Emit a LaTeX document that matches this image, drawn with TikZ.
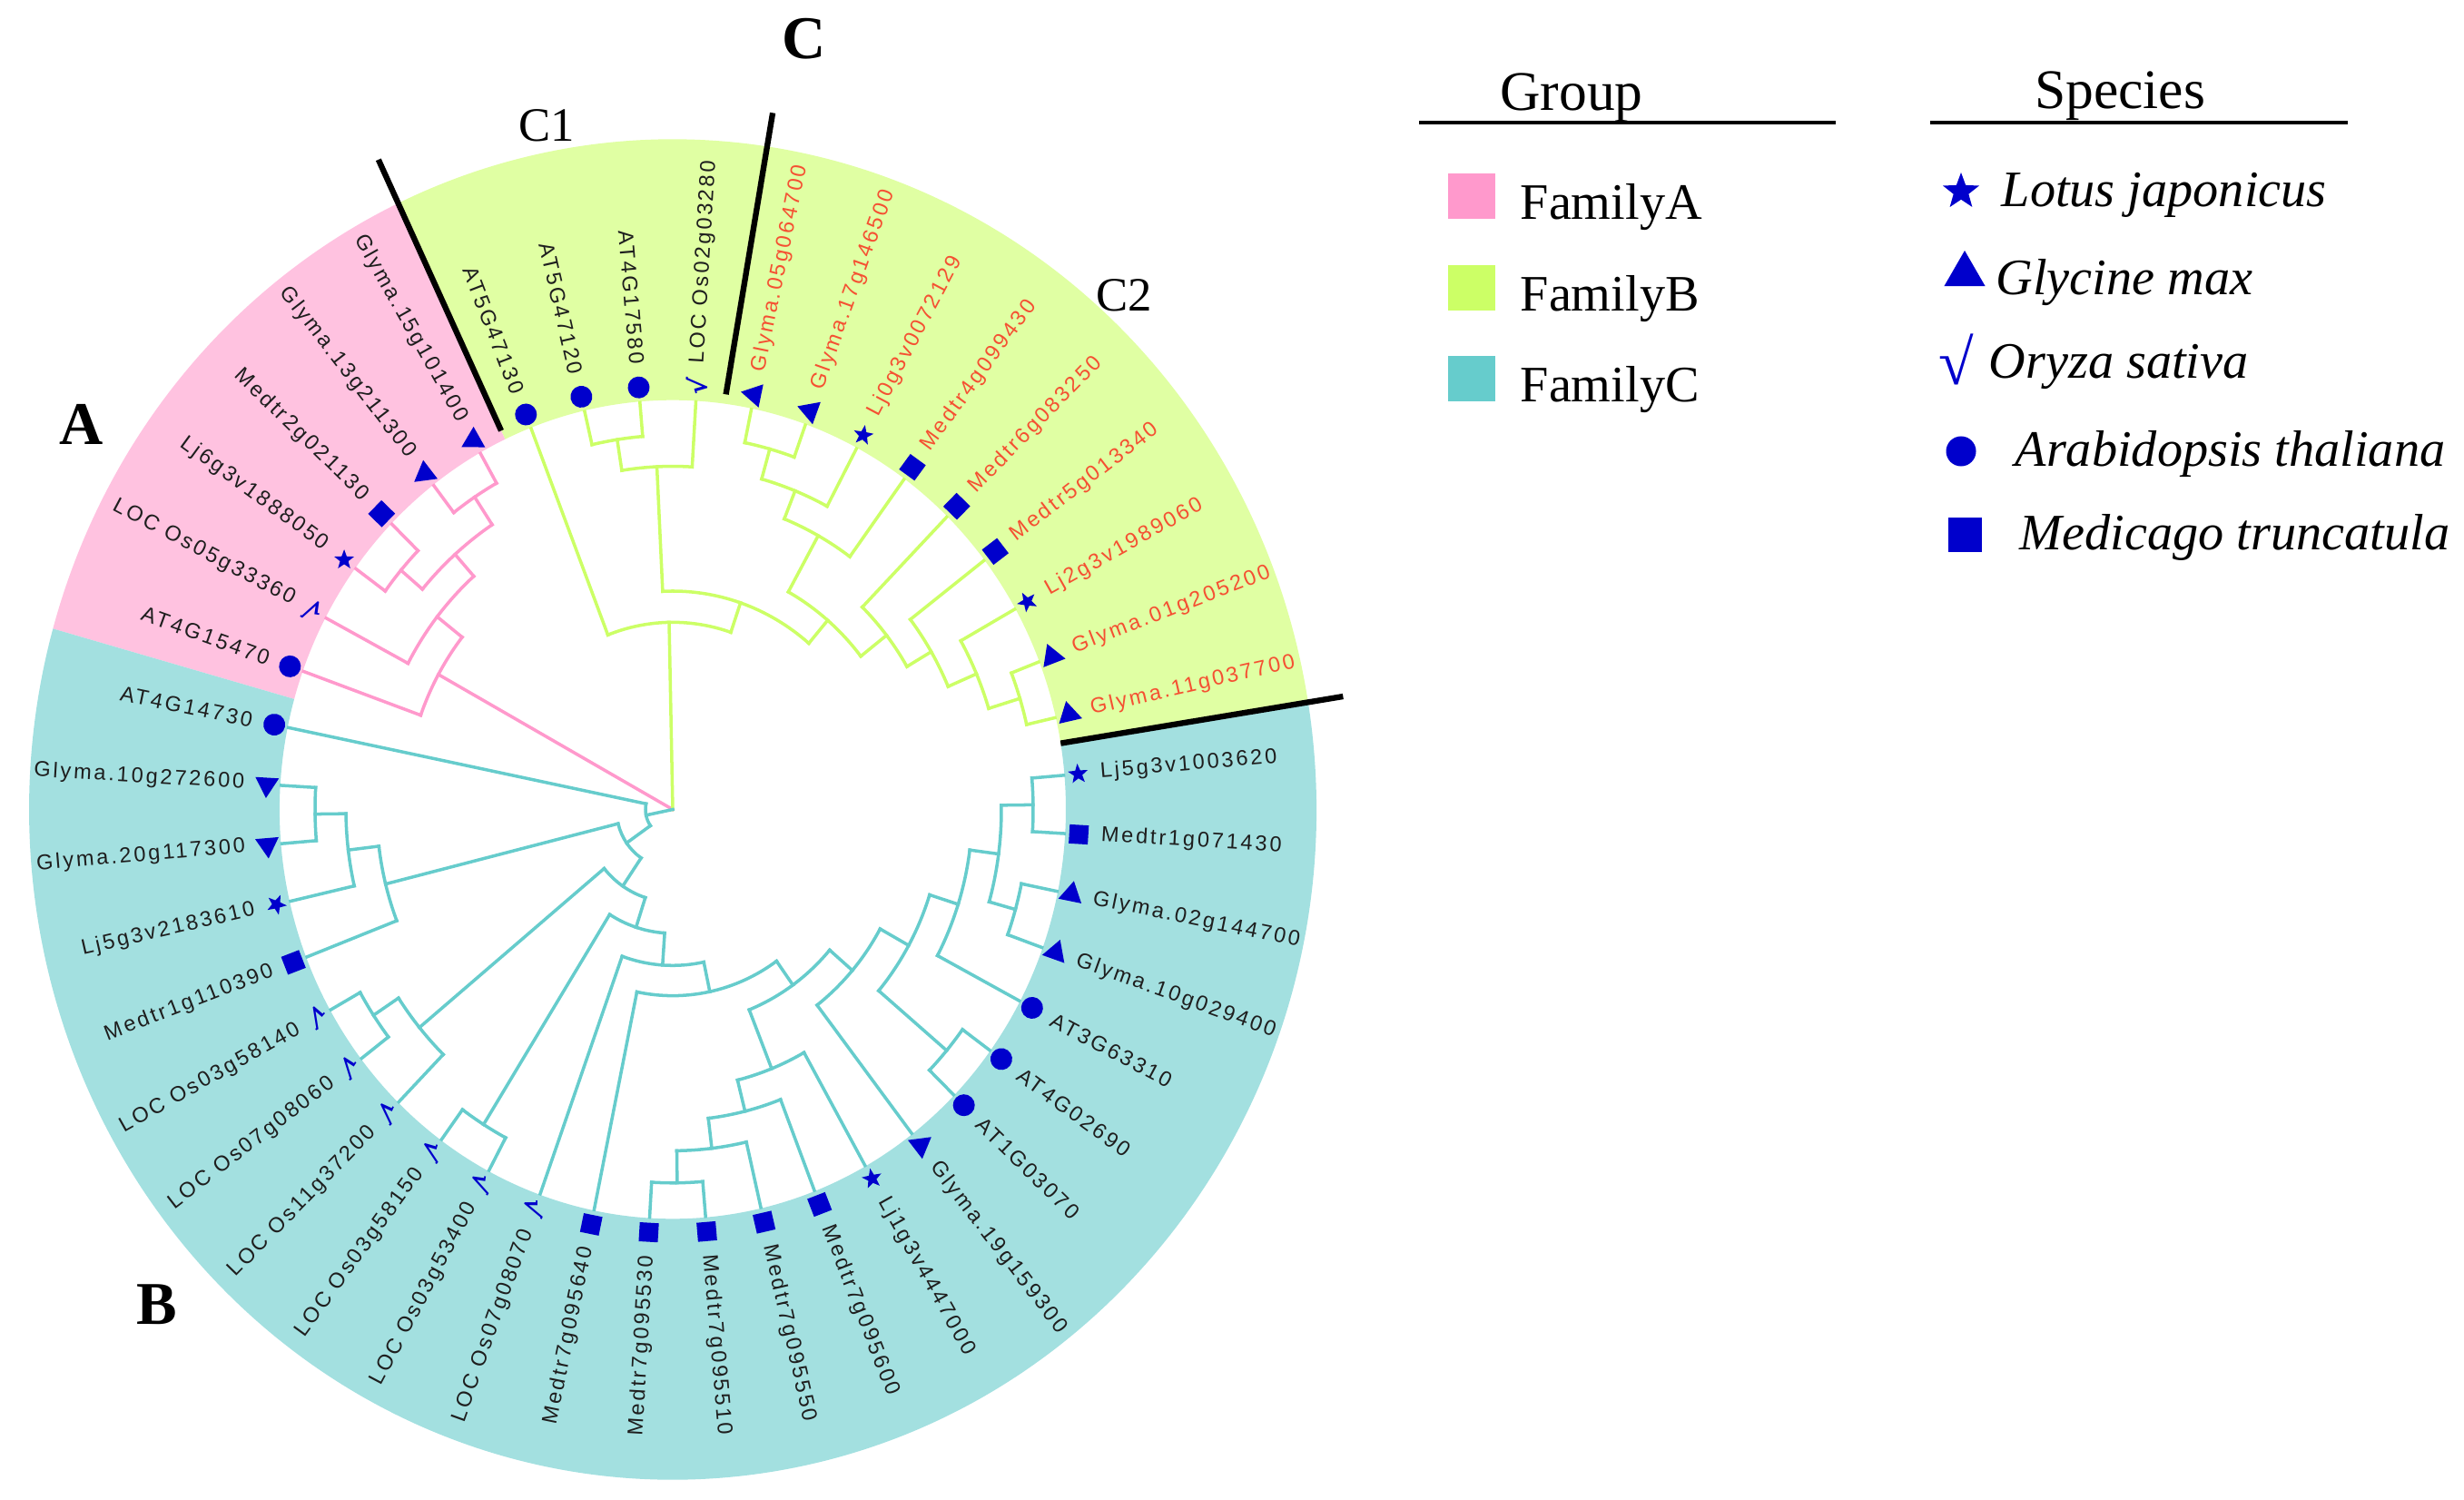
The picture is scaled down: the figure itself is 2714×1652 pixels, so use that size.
\documentclass[tikz,border=0pt]{standalone}
\usepackage{fontspec}
\setmainfont{Liberation Serif}
\newfontfamily\lblfont[LetterSpace=12]{Liberation Sans}
\newfontfamily\symfnt{DejaVu Sans}
\usetikzlibrary{shapes.geometric}
\definecolor{pinkB}{RGB}{255,153,204}
\definecolor{greenB}{RGB}{204,255,102}
\definecolor{tealB}{RGB}{102,204,204}
\definecolor{pinkR}{RGB}{255,194,224}
\definecolor{greenR}{RGB}{224,255,163}
\definecolor{tealR}{RGB}{163,224,224}
\definecolor{mk}{RGB}{0,0,204}
\definecolor{redT}{RGB}{245,80,50}
\definecolor{grayT}{RGB}{30,30,30}
% radial line + arc of an internal node
\newcommand\TNd[6]{\draw[#1] (#2:#3) -- (#2:#4); \draw[#1] (#5:#4) arc[start angle=#5, end angle=#6, radius=#4];}
% leaf line
\newcommand\TLf[3]{\draw[#1] (#2:#3) -- (#2:432);}
% marker
\newcommand\TM[3]{\node[#2, rotate=#3] (m#1) at (#3:448) {};}
\newcommand\TMV[2]{\node[chk, rotate=#2] (m#1) at (#2:448) {√};}
% labels right / left
\newcommand\TLR[4]{\node[lbl,#4,anchor=west,rotate=#2] (l#1) at (#2:472) {#3};}
\newcommand\TLL[4]{\node[lbl,#4,anchor=east,rotate=#2-180] (l#1) at (#2:472) {#3};}
\newcommand\Ring[4]{\fill[#1] (#2:433) arc[start angle=#2, end angle=#3, radius=433] -- (#3:#4) arc[start angle=#3, end angle=#2, radius=#4] -- cycle;}
\begin{document}
\begin{tikzpicture}[x=0.01cm,y=-0.01cm,
  pb/.style={draw=pinkB, line width=1pt, line cap=rect},
  gb/.style={draw=greenB, line width=1pt, line cap=rect},
  tb/.style={draw=tealB, line width=1pt, line cap=rect},
  mcirc/.style={circle, fill=mk, inner sep=0pt, minimum size=0.24cm},
  mtri/.style={regular polygon, regular polygon sides=3, fill=mk, inner sep=0pt, minimum size=0.30cm},
  msq/.style={rectangle, fill=mk, inner sep=0pt, minimum size=0.21cm},
  mstar/.style={star, star points=5, star point ratio=2.4, fill=mk, inner sep=0pt, minimum size=0.23cm},
  chk/.style={inner sep=0pt, text=mk, font=\symfnt\bfseries\fontsize{8}{8}\selectfont},
  lbl/.style={inner sep=0pt, font=\lblfont\fontsize{6.7}{7}\selectfont},
  gt/.style={text=grayT},
  rt/.style={text=redT},
  sep/.style={line width=1.8pt, draw=black},
  leg/.style={inner sep=0pt, font=\fontsize{16}{18}\selectfont},
  legi/.style={inner sep=0pt, font=\fontsize{16}{18}\selectfont\itshape},
  swatch/.style={inner sep=0pt, minimum width=0.52cm, minimum height=0.5cm}
]
\useasboundingbox (0,0) rectangle (2714,1652);

\begin{scope}[shift={(741,891.5)}, x=0.01cm, y=0.0104cm]
% ring sectors
\Ring{greenR}{9.2}{115.25}{709}
\Ring{pinkR}{115.25}{164.35}{709}
\Ring{tealR}{164.35}{369.2}{709}

% ---- pink clade
\TNd{pb}{151.05}{0}{295}{160.25}{141.845}
\TLf{pb}{160.25}{295}
\TNd{pb}{141.845}{295}{330}{152.07}{131.62}
\TLf{pb}{152.07}{330}
\TNd{pb}{131.62}{330}{361}{139.80}{123.44}
\TNd{pb}{139.80}{361}{392}{143.89}{135.71}
\TLf{pb}{143.89}{392}\TLf{pb}{135.71}{392}
\TNd{pb}{123.44}{361}{396}{127.53}{119.35}
\TLf{pb}{127.53}{396}\TLf{pb}{119.35}{396}

% ---- green clade
\TNd{gb}{91.155}{0}{198}{111.16}{71.15}
\TLf{gb}{111.16}{198}
\TNd{gb}{71.15}{198}{231}{92.755}{49.545}
\TNd{gb}{92.755}{231}{363}{98.89}{86.62}
\TLf{gb}{86.62}{363}
\TNd{gb}{98.89}{363}{396}{102.98}{94.80}
\TLf{gb}{102.98}{396}\TLf{gb}{94.80}{396}
\TNd{gb}{49.545}{231}{263}{61.05}{38.04}
\TNd{gb}{61.05}{263}{331}{68.21}{53.89}
\TLf{gb}{53.89}{331}
\TNd{gb}{68.21}{331}{363}{74.345}{62.07}
\TLf{gb}{62.07}{363}
\TNd{gb}{74.345}{363}{396}{78.44}{70.25}
\TLf{gb}{78.44}{396}\TLf{gb}{70.25}{396}
\TNd{gb}{38.04}{263}{299}{45.71}{30.37}
\TLf{gb}{45.71}{299}
\TNd{gb}{30.37}{299}{330}{37.53}{23.21}
\TLf{gb}{37.53}{330}
\TNd{gb}{23.21}{330}{364}{29.35}{17.07}
\TLf{gb}{29.35}{364}
\TNd{gb}{17.07}{364}{400}{21.16}{12.98}
\TLf{gb}{21.16}{400}\TLf{gb}{12.98}{400}

% ---- teal clade
\TNd{tb}{191.67}{0}{30}{168.44}{214.905}
\TLf{tb}{168.44}{30}
\TNd{tb}{214.905}{30}{62}{194.00}{235.81}
\TNd{tb}{194.00}{62}{326}{186.845}{201.16}
\TLf{tb}{201.16}{326}
\TNd{tb}{186.845}{326}{360}{180.71}{192.98}
\TLf{tb}{192.98}{360}
\TNd{tb}{180.71}{360}{394}{176.62}{184.80}
\TLf{tb}{176.62}{394}\TLf{tb}{184.80}{394}
\TNd{tb}{235.81}{62}{98}{219.575}{252.04}
\TNd{tb}{219.575}{98}{362}{213.44}{225.71}
\TLf{tb}{225.71}{362}
\TNd{tb}{213.44}{362}{395}{209.35}{217.53}
\TLf{tb}{209.35}{395}\TLf{tb}{217.53}{395}
\TNd{tb}{252.04}{98}{131}{237.98}{266.105}
\TNd{tb}{237.98}{131}{393}{233.89}{242.07}
\TLf{tb}{233.89}{393}\TLf{tb}{242.07}{393}
\TNd{tb}{266.105}{131}{165}{250.25}{281.96}
\TLf{tb}{250.25}{165}
\TNd{tb}{281.96}{165}{197}{258.44}{305.48}
\TLf{tb}{258.44}{197}
\TNd{tb}{305.48}{197}{228}{291.675}{319.29}
\TNd{tb}{291.675}{228}{295}{284.00}{299.35}
\TLf{tb}{299.35}{295}
\TNd{tb}{284.00}{295}{329}{276.845}{291.16}
\TLf{tb}{291.16}{329}
\TNd{tb}{276.845}{329}{361}{270.71}{282.98}
\TLf{tb}{282.98}{361}
\TNd{tb}{270.71}{361}{395}{266.62}{274.80}
\TLf{tb}{266.62}{395}\TLf{tb}{274.80}{395}
\TNd{tb}{319.29}{228}{261}{307.53}{331.05}
\TLf{tb}{307.53}{261}
\TNd{tb}{331.05}{261}{297}{319.80}{342.30}
\TNd{tb}{319.80}{297}{395}{315.71}{323.89}
\TLf{tb}{315.71}{395}\TLf{tb}{323.89}{395}
\TNd{tb}{342.30}{297}{330}{332.07}{352.53}
\TLf{tb}{332.07}{330}
\TNd{tb}{352.53}{330}{362}{344.345}{360.71}
\TNd{tb}{344.345}{362}{392}{340.25}{348.44}
\TLf{tb}{340.25}{392}\TLf{tb}{348.44}{392}
\TNd{tb}{360.71}{362}{397}{356.62}{364.80}
\TLf{tb}{356.62}{397}\TLf{tb}{364.80}{397}

% ---- separators
\draw[sep] (115.25:443) -- (115.25:760);
\draw[sep] (82.4:443) -- (81.5:745);
\draw[sep] (9.3:433) -- (9.2:748);

% ---- markers
\TM{0}{mstar}{4.80}
\TM{1}{mtri}{12.98}
\TM{2}{mtri}{21.16}
\TM{3}{mstar}{29.35}
\TM{4}{msq}{37.53}
\TM{5}{msq}{45.71}
\TM{6}{msq}{53.89}
\TM{7}{mstar}{62.07}
\TM{8}{mtri}{70.25}
\TM{9}{mtri}{78.44}
\TMV{10}{86.62}
\TM{11}{mcirc}{94.80}
\TM{12}{mcirc}{102.98}
\TM{13}{mcirc}{111.16}
\TM{14}{mtri}{119.35}
\TM{15}{mtri}{127.53}
\TM{16}{msq}{135.71}
\TM{17}{mstar}{143.89}
\TMV{18}{152.07}
\TM{19}{mcirc}{160.25}
\TM{20}{mcirc}{168.44}
\TM{21}{mtri}{176.62}
\TM{22}{mtri}{184.80}
\TM{23}{mstar}{192.98}
\TM{24}{msq}{201.16}
\TMV{25}{209.35}
\TMV{26}{217.53}
\TMV{27}{225.71}
\TMV{28}{233.89}
\TMV{29}{242.07}
\TMV{30}{250.25}
\TM{31}{msq}{258.44}
\TM{32}{msq}{266.62}
\TM{33}{msq}{274.80}
\TM{34}{msq}{282.98}
\TM{35}{msq}{291.16}
\TM{36}{mstar}{299.35}
\TM{37}{mtri}{307.53}
\TM{38}{mcirc}{315.71}
\TM{39}{mcirc}{323.89}
\TM{40}{mcirc}{332.07}
\TM{41}{mtri}{340.25}
\TM{42}{mtri}{348.44}
\TM{43}{msq}{356.62}

% ---- labels
\TLR{0}{4.80}{Lj5g3v1003620}{gt}
\TLR{1}{12.98}{Glyma.11g037700}{rt}
\TLR{2}{21.16}{Glyma.01g205200}{rt}
\TLR{3}{29.35}{Lj2g3v1989060}{rt}
\TLR{4}{37.53}{Medtr5g013340}{rt}
\TLR{5}{45.71}{Medtr6g083250}{rt}
\TLR{6}{53.89}{Medtr4g099430}{rt}
\TLR{7}{62.07}{Lj0g3v0072129}{rt}
\TLR{8}{70.25}{Glyma.17g146500}{rt}
\TLR{9}{78.44}{Glyma.05g064700}{rt}
\TLR{10}{86.62}{LOC Os02g03280}{gt}
\TLL{11}{94.80}{AT4G17580}{gt}
\TLL{12}{102.98}{AT5G47120}{gt}
\TLL{13}{111.16}{AT5G47130}{gt}
\TLL{14}{119.35}{Glyma.15g101400}{gt}
\TLL{15}{127.53}{Glyma.13g211300}{gt}
\TLL{16}{135.71}{Medtr2g021130}{gt}
\TLL{17}{143.89}{Lj6g3v1888050}{gt}
\TLL{18}{152.07}{LOC Os05g33360}{gt}
\TLL{19}{160.25}{AT4G15470}{gt}
\TLL{20}{168.44}{AT4G14730}{gt}
\TLL{21}{176.62}{Glyma.10g272600}{gt}
\TLL{22}{184.80}{Glyma.20g117300}{gt}
\TLL{23}{192.98}{Lj5g3v2183610}{gt}
\TLL{24}{201.16}{Medtr1g110390}{gt}
\TLL{25}{209.35}{LOC Os03g58140}{gt}
\TLL{26}{217.53}{LOC Os07g08060}{gt}
\TLL{27}{225.71}{LOC Os11g37200}{gt}
\TLL{28}{233.89}{LOC Os03g58150}{gt}
\TLL{29}{242.07}{LOC Os03g53400}{gt}
\TLL{30}{250.25}{LOC Os07g08070}{gt}
\TLL{31}{258.44}{Medtr7g095640}{gt}
\TLL{32}{266.62}{Medtr7g095530}{gt}
\TLR{33}{274.80}{Medtr7g095510}{gt}
\TLR{34}{282.98}{Medtr7g095550}{gt}
\TLR{35}{291.16}{Medtr7g095600}{gt}
\TLR{36}{299.35}{Lj1g3v4447000}{gt}
\TLR{37}{307.53}{Glyma.19g159300}{gt}
\TLR{38}{315.71}{AT1G03070}{gt}
\TLR{39}{323.89}{AT4G02690}{gt}
\TLR{40}{332.07}{AT3G63310}{gt}
\TLR{41}{340.25}{Glyma.10g029400}{gt}
\TLR{42}{348.44}{Glyma.02g144700}{gt}
\TLR{43}{356.62}{Medtr1g071430}{gt}
\end{scope}

% ---- clade letters
\node[font=\fontsize{19}{20}\selectfont\bfseries] (labA) at (90,467) {A};
\node[font=\fontsize{19}{20}\selectfont\bfseries] (labB) at (173,1437) {B};
\node[font=\fontsize{19}{20}\selectfont\bfseries] (labC) at (886,43) {C};
\node[font=\fontsize{15}{16}\selectfont] (labC1) at (602,138) {C1};
\node[font=\fontsize{15}{16}\selectfont] (labC2) at (1238,325) {C2};

% ---- legend: group
\node[inner sep=0pt, anchor=base, font=\fontsize{17.5}{20}\selectfont] (grp) at (1731,122) {Group};
\draw[line width=1.3pt] (1563,135) -- (2022,135);
\node[swatch, fill=pinkB, anchor=south west] (swA) at (1594,242) {};
\node[swatch, fill=greenB, anchor=south west] (swB) at (1594,343) {};
\node[swatch, fill=tealB, anchor=south west] (swC) at (1594,443) {};
\node[leg, anchor=base west] (fA) at (1674,242) {FamilyA};
\node[leg, anchor=base west] (fB) at (1674,343) {FamilyB};
\node[leg, anchor=base west] (fC) at (1674,443) {FamilyC};

% ---- legend: species
\node[inner sep=0pt, anchor=base, font=\fontsize{17.5}{20}\selectfont] (spc) at (2335,120) {Species};
\draw[line width=1.3pt] (2126,135) -- (2586,135);
\node[star, star points=5, star point ratio=2.4, fill=mk, inner sep=0pt, minimum size=0.42cm] (sL) at (2160,211) {};
\node[regular polygon, regular polygon sides=3, fill=mk, inner sep=0pt, minimum size=0.52cm] (sG) at (2164,302) {};
\node[inner sep=0pt, text=mk, font=\fontsize{20}{20}\selectfont] (sO) at (2155,396) {√};
\node[circle, fill=mk, inner sep=0pt, minimum size=0.33cm] (sA) at (2160,497) {};
\node[rectangle, fill=mk, inner sep=0pt, minimum size=0.37cm] (sM) at (2164,589) {};
\node[legi, anchor=base west] (tL) at (2204,228) {Lotus japonicus};
\node[legi, anchor=base west] (tG) at (2198,325) {Glycine max};
\node[legi, anchor=base west] (tO) at (2190,417) {Oryza sativa};
\node[legi, anchor=base west] (tA) at (2219,514) {Arabidopsis thaliana};
\node[legi, anchor=base west] (tM) at (2224,606) {Medicago truncatula};
\end{tikzpicture}
\end{document}
